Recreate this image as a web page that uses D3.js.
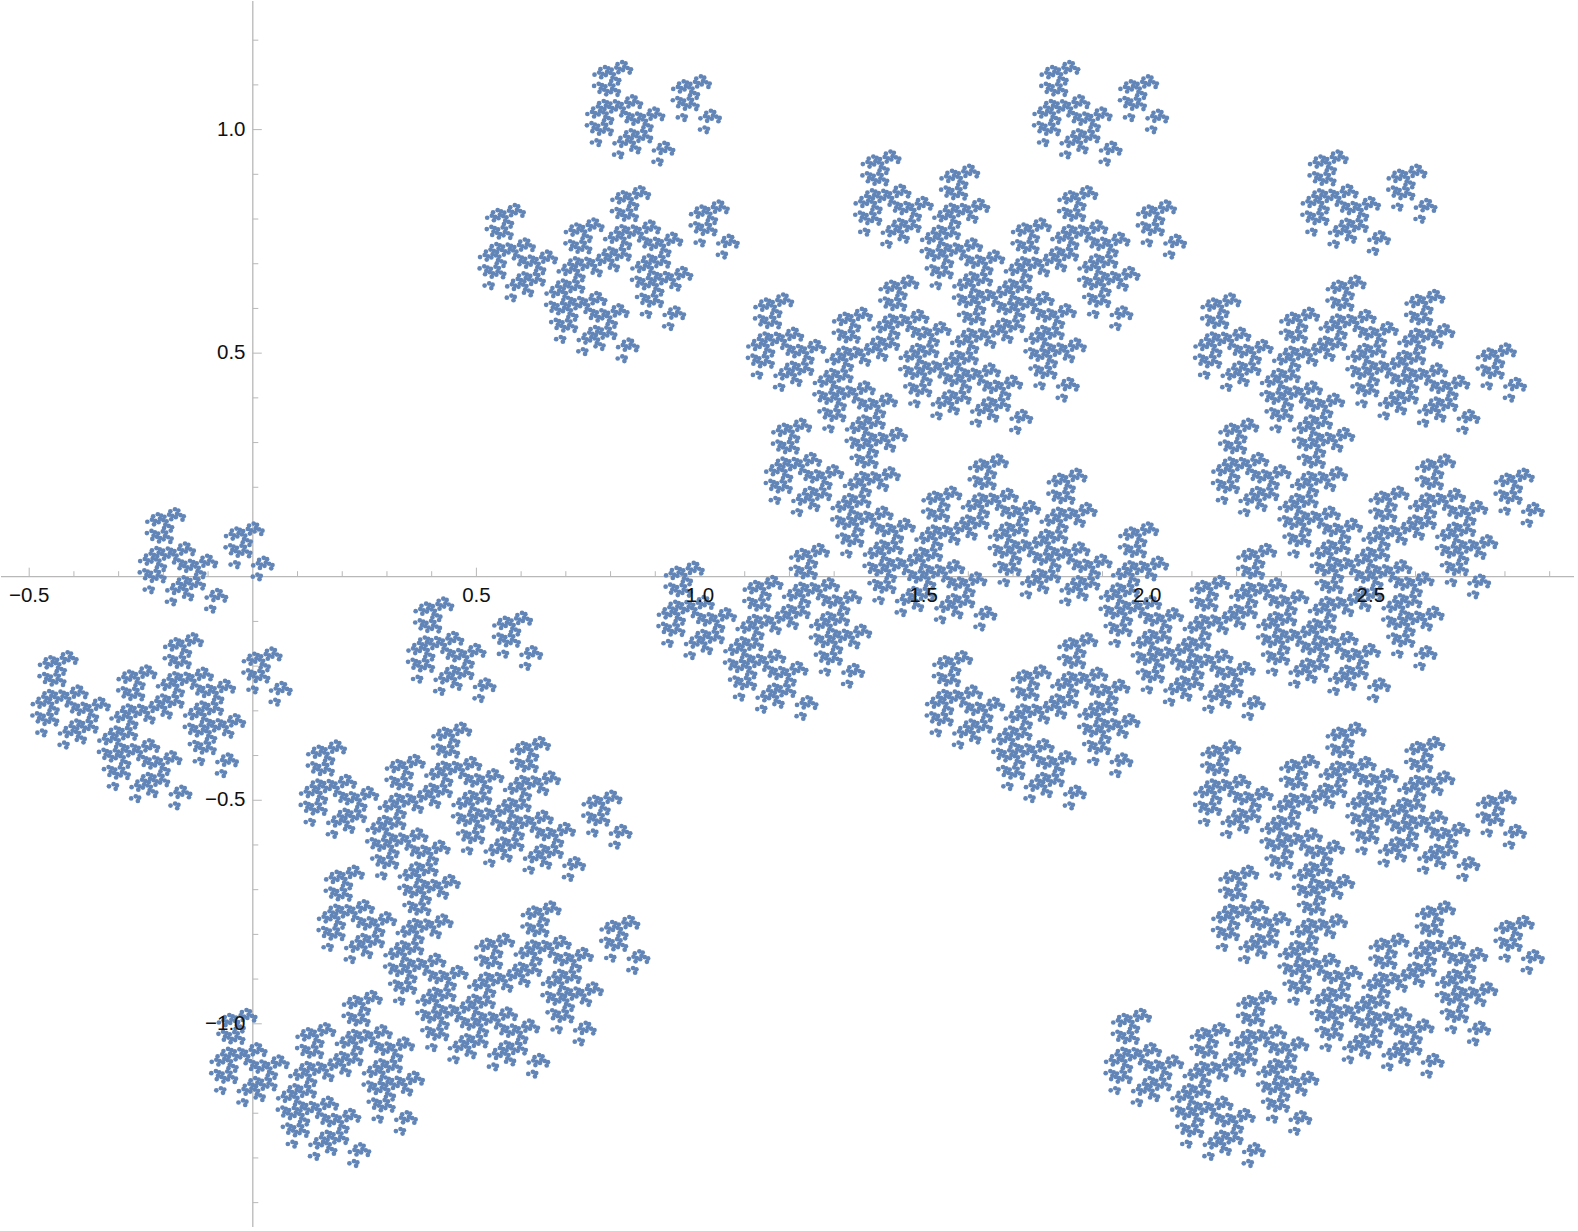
<!DOCTYPE html>
<html><head><meta charset="utf-8">
<style>html,body{margin:0;padding:0;background:#fff}svg{display:block}text{font-family:"Liberation Sans",Arial,sans-serif;font-size:20.5px;fill:#111}</style>
<script src="https://cdn.jsdelivr.net/npm/d3@7"></script></head><body><div id="c"></div>
<script>
// Cluster displacement lists, as [x, y] data offsets measured between matching features in the picture.
const regionOffsets=[[0,0],[2,0],[1,1],[2,1]];
const groupOffsets=[[0,0],[0.4,-0.8],[0.6,-0.2],[0.8,-0.6]];
const blockOffsets=[[0,0],[-0.24,-0.32],[0.04,-0.28],[-0.08,-0.44]];
const clusterOffsets=[[0,0],[-0.176,0.032],[-0.104,-0.072],[-0.192,-0.056]];
const twigOffsets=[[0,0],[-0.0224,0.0768],[-0.0496,0.0272],[-0.0608,0.0656]];
const sprigOffsets=[[0,0],[0.02624,0.02432],[0.00096,0.02528],[0.01408,0.03744]];
const dotOffsets=[[0,0],[0.014976,-0.005632],[0.010304,0.004672],[0.017792,0.001856]];
const offsetLists=[regionOffsets,groupOffsets,blockOffsets,clusterOffsets,twigOffsets,sprigOffsets,dotOffsets];
const xTickValues=[-0.5,0.5,1.0,1.5,2.0,2.5];
const yTickValues=[-1.0,-0.5,0.5,1.0];

const W=1578,H=1231;
const x=d3.scaleLinear().domain([-0.5,2.5]).range([29.2,1370.8]);
const y=d3.scaleLinear().domain([-1,1]).range([1023.8,129.6]);
const points=offsetLists.reduce((acc,list)=>d3.cross(acc,list,(a,b)=>[a[0]+b[0],a[1]+b[1]]),[[0,0]]);
const svg=d3.select('#c').append('svg').attr('width',W).attr('height',H);
const axisCol='#b8b8b8';
const ax=svg.append('g').attr('stroke',axisCol).attr('fill','none');
const x0=x(0),y0=y(0);
ax.append('line').attr('x1',1).attr('x2',1574).attr('y1',y0).attr('y2',y0).attr('stroke-width',1.3);
ax.append('line').attr('x1',x0).attr('x2',x0).attr('y1',1).attr('y2',1227).attr('stroke-width',1.3);
d3.range(-5,31).forEach(i=>{if(i===0)return;const v=i/10,major=i%5===0;
 ax.append('line').attr('x1',x(v)).attr('x2',x(v)).attr('y1',y0).attr('y2',y0-(major?9:5.5));});
d3.range(-14,13).forEach(i=>{if(i===0)return;const v=i/10,major=i%5===0;
 ax.append('line').attr('y1',y(v)).attr('y2',y(v)).attr('x1',x0).attr('x2',x0+(major?9:5.5));});
const g=svg.append('g').attr('fill','#6285B8');
g.selectAll('circle').data(points).join('circle').attr('cx',d=>x(d[0])).attr('cy',d=>y(d[1])).attr('r',2.35);
const fmt=v=>(v<0?'\u2212':'')+Math.abs(v).toFixed(1);
svg.append('g').selectAll('text').data(xTickValues).join('text').attr('x',d=>x(d)).attr('y',602).attr('text-anchor','middle').text(fmt);
svg.append('g').selectAll('text').data(yTickValues).join('text').attr('x',245.5).attr('y',d=>y(d)+6).attr('text-anchor','end').text(fmt);
</script></body></html>
